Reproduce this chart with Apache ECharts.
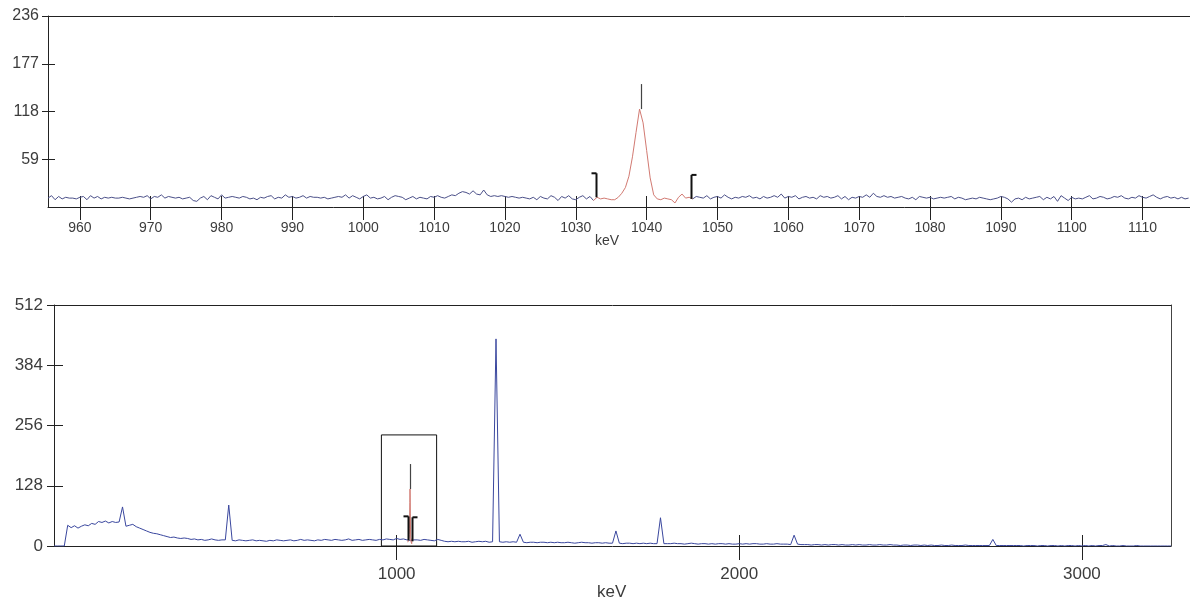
<!DOCTYPE html>
<html>
<head>
<meta charset="utf-8">
<script src="https://cdn.jsdelivr.net/npm/echarts@6/dist/echarts.min.js"></script>
<style>
html,body{margin:0;padding:0;background:#fff;}
#chart{width:1190px;height:606px;}
</style>
</head>
<body>
<div id="chart"></div>
<script>
// ---------- DATA ----------
// Zoomed spectrum (top panel): channels of 0.5 keV starting at 955.5 keV
const topStart = 955.5;
const topStep = 0.5;
const topCounts = [
  11,14,9,13,10,12,11,11,10,12,13,9,14,11,13,10,12,11,12,11,
  11,12,11,10,11,12,13,12,14,10,13,12,15,11,13,12,11,12,10,11,
  12,8,7,11,13,9,14,12,10,15,11,12,13,12,11,13,12,10,11,9,
  12,11,13,14,10,12,11,15,12,13,11,12,14,11,13,12,12,11,12,10,
  11,12,13,12,15,11,14,12,10,13,15,11,12,10,11,13,9,12,14,13,
  12,9,11,13,10,12,11,10,13,12,14,12,11,13,15,14,17,19,18,16,
  20,16,15,21,15,13,14,13,14,13,12,13,12,11,12,11,10,12,9,13,
  11,10,14,12,8,13,11,14,10,9,12,14,10,13,8,12,10,11,10,9,
  9,12,17,24,38,62,92,121,104,70,36,15,10,9,11,10,9,5,12,16,
  11,12,10,13,12,11,14,10,12,13,11,15,12,10,12,11,13,12,14,11,
  12,10,13,11,12,14,12,16,11,13,12,14,10,12,13,11,12,10,14,12,
  13,11,12,14,10,13,9,12,11,13,12,15,12,17,13,12,14,12,13,11,
  12,13,11,10,12,9,13,12,11,12,10,11,12,11,12,13,10,12,11,9,
  10,11,10,12,11,10,9,10,11,13,12,10,6,10,11,9,12,10,11,12,
  13,9,12,10,13,7,14,11,8,12,10,11,10,12,14,10,11,13,12,10,
  11,13,12,14,11,10,12,11,14,12,11,13,15,12,10,12,13,11,12,10,
  12,10,11
];
const topRange = [955.5, 1116.7];
const topYMax = 236;
const topXTicks = [960,970,980,990,1000,1010,1020,1030,1040,1050,1060,1070,1080,1090,1100,1110];
const topYTicks = [59,118,177,236];

// Full spectrum (bottom panel): 10 keV bins starting at 0 keV
const bottomStart = 0;
const bottomStep = 10;
const bottomCounts = [
  0,0,0,0,44,39,43,38,42,45,43,48,46,52,50,53,49,52,50,51,
  83,42,44,46,41,38,35,32,29,27,26,24,22,20,18,19,17,16,17,16,
  14,15,13,14,12,13,15,13,12,13,13,87,12,11,13,12,11,12,13,11,
  12,11,10,12,11,13,12,11,12,13,11,12,14,12,13,12,11,13,12,14,
  13,12,14,13,12,13,15,12,13,14,12,13,14,13,12,14,13,15,14,13,
  16,14,15,13,12,13,13,12,14,13,12,11,14,12,10,9,10,9,10,9,
  9,10,8,9,10,9,10,8,9,440,9,8,9,8,9,8,25,8,7,8,
  8,7,8,8,7,8,7,8,7,7,8,7,6,7,8,7,7,6,7,7,
  6,7,6,6,32,6,5,6,6,5,6,5,6,5,6,5,5,60,5,5,
  5,6,5,5,4,5,6,5,4,5,5,4,5,4,5,5,4,5,4,4,
  5,4,5,4,5,5,4,4,5,4,4,5,4,4,4,3,23,4,3,3,
  3,2,3,3,2,3,2,3,3,2,3,2,2,3,2,3,2,2,3,2,
  2,3,2,2,3,2,2,1,2,2,1,2,2,1,2,1,2,1,1,2,
  1,1,2,1,1,1,2,1,1,1,1,1,1,1,14,1,1,1,1,1,
  1,1,1,0,1,1,1,0,1,1,0,1,1,0,1,0,1,1,0,1,
  0,1,0,1,0,1,1,3,0,1,0,0,1,0,0,0,1,0,0,0,
  0,0,0,0,0,0,0
];
const bottomRange = [0, 3260];
const bottomYMax = 512;
const bottomXTicks = [1000,2000,3000];
const bottomYTicks = [0,128,256,384,512];

// Region of interest and peak markers
const roi = [1032.8, 1046.2];
const roiBaseCounts = [12, 10];
const peakEnergy = 1039.2;
const peakCounts = 121;
const axisTitle = 'keV';

// ---------- BUILD ----------
const topPairs = topCounts.map((c, i) => [topStart + i * topStep, c]);
let iL = 0, iR = topPairs.length - 1;
topPairs.forEach((p, i) => { if (p[0] <= roi[0]) iL = i; });
for (let i = topPairs.length - 1; i >= 0; i--) { if (topPairs[i][0] >= roi[1]) iR = i; }
const topBlue = topPairs.map((p, i) => (i <= iL || i >= iR) ? p : [p[0], null]);
const roiPairs = topPairs.slice(iL, iR + 1);
const bottomPairs = bottomCounts.map((c, i) => [bottomStart + i * bottomStep, c]);
const markerData = [[roi[0], roiBaseCounts[0], -1], [peakEnergy, peakCounts, 0], [roi[1], roiBaseCounts[1], 1]];

const FONT = "'Liberation Sans', Arial, sans-serif";
const LBL = '#3c3c3c';
const AX = '#222';
const plain = (v) => String(v);

function markerRender(params, api) {
  const kind = api.value(2);
  const p = api.coord([api.value(0), api.value(1)]);
  const x = Math.round(p[0]) + 0.5;
  const y = p[1];
  if (kind === 0) {
    return { type: 'line', shape: { x1: x, y1: y, x2: x, y2: y - 25 }, style: { stroke: '#444', lineWidth: 1.2 } };
  }
  return {
    type: 'group',
    children: [
      { type: 'line', shape: { x1: x, y1: y, x2: x, y2: y - 24 }, style: { stroke: '#111', lineWidth: 2 } },
      { type: 'line', shape: { x1: x, y1: y - 24, x2: x + kind * 5, y2: y - 24 }, style: { stroke: '#111', lineWidth: 2 } }
    ]
  };
}

function xMain(grid, range, ticks, fontSize, margin, outLen) {
  return {
    type: 'value', gridIndex: grid, min: range[0], max: range[1], position: 'bottom',
    axisLine: { show: true, onZero: false, lineStyle: { color: AX, width: 1 } },
    axisTick: { show: true, customValues: ticks, length: outLen, lineStyle: { color: AX, width: 1 } },
    axisLabel: { show: true, customValues: ticks, formatter: plain, fontSize: fontSize, fontFamily: FONT, color: LBL, margin: margin },
    splitLine: { show: false }
  };
}
function xInner(grid, range, ticks, inLen) {
  return {
    type: 'value', gridIndex: grid, min: range[0], max: range[1], position: 'bottom',
    axisLine: { show: false },
    axisTick: { show: true, inside: true, customValues: ticks, length: inLen, lineStyle: { color: AX, width: 1 } },
    axisLabel: { show: false }, splitLine: { show: false }
  };
}
function xTop(grid, range) {
  return {
    type: 'value', gridIndex: grid, min: range[0], max: range[1], position: 'top',
    axisLine: { show: true, onZero: false, lineStyle: { color: AX, width: 1 } },
    axisTick: { show: false }, axisLabel: { show: false }, splitLine: { show: false }
  };
}
function yMain(grid, max, ticks, fontSize, margin, outLen) {
  return {
    type: 'value', gridIndex: grid, min: 0, max: max, position: 'left',
    axisLine: { show: true, onZero: false, lineStyle: { color: AX, width: 1 } },
    axisTick: { show: true, customValues: ticks, length: outLen, lineStyle: { color: AX, width: 1 } },
    axisLabel: { show: true, customValues: ticks, formatter: plain, fontSize: fontSize, fontFamily: FONT, color: LBL, margin: margin },
    splitLine: { show: false }
  };
}
function yInner(grid, max, ticks, inLen) {
  return {
    type: 'value', gridIndex: grid, min: 0, max: max, position: 'left',
    axisLine: { show: false },
    axisTick: { show: true, inside: true, customValues: ticks, length: inLen, lineStyle: { color: AX, width: 1 } },
    axisLabel: { show: false }, splitLine: { show: false }
  };
}
function yRight(grid, max) {
  return {
    type: 'value', gridIndex: grid, min: 0, max: max, position: 'right',
    axisLine: { show: true, onZero: false, lineStyle: { color: '#444', width: 1 } },
    axisTick: { show: false }, axisLabel: { show: false }, splitLine: { show: false }
  };
}

const chart = echarts.init(document.getElementById('chart'), null, { renderer: 'canvas' });
chart.setOption({
  animation: false,
  backgroundColor: '#fff',
  grid: [
    { left: 48, top: 16, width: 1142, height: 191 },
    { left: 54, top: 305, width: 1117, height: 241 }
  ],
  xAxis: [
    xMain(0, topRange, topXTicks, 14, 14, 13),
    xInner(0, topRange, topXTicks, 11),
    xTop(0, topRange),
    xMain(1, bottomRange, bottomXTicks, 17, 20, 14),
    xInner(1, bottomRange, bottomXTicks, 11),
    xTop(1, bottomRange)
  ],
  yAxis: [
    yMain(0, topYMax, topYTicks, 16, 9, 6),
    yInner(0, topYMax, topYTicks, 7),
    yMain(1, bottomYMax, bottomYTicks, 17, 11, 7),
    yInner(1, bottomYMax, bottomYTicks, 9),
    yRight(1, bottomYMax)
  ],
  graphic: [
    { type: 'text', left: 595, top: 234, style: { text: axisTitle, font: '14px ' + FONT, fill: LBL } },
    { type: 'text', left: 597, top: 584, style: { text: axisTitle, font: '17px ' + FONT, fill: LBL } }
  ],
  series: [
    { type: 'line', xAxisIndex: 0, yAxisIndex: 0, data: topBlue, showSymbol: false, connectNulls: false,
      lineStyle: { color: '#4b5089', width: 1 }, z: 3 },
    { type: 'line', xAxisIndex: 0, yAxisIndex: 0, data: roiPairs, showSymbol: false,
      lineStyle: { color: '#d27a72', width: 1 }, z: 4 },
    { type: 'custom', xAxisIndex: 0, yAxisIndex: 0, data: markerData, renderItem: markerRender, z: 5, clip: false },
    { type: 'line', xAxisIndex: 3, yAxisIndex: 2, data: bottomPairs, showSymbol: false,
      lineStyle: { color: '#3a479e', width: 1 }, z: 3,
      markArea: { silent: true, itemStyle: { color: 'rgba(0,0,0,0)', borderColor: '#111', borderWidth: 1 },
        data: [[{ coord: [topRange[0], 0] }, { coord: [topRange[1], topYMax] }]] } },
    { type: 'line', xAxisIndex: 3, yAxisIndex: 2, data: roiPairs, showSymbol: false,
      lineStyle: { color: '#d27a72', width: 1 }, z: 4 },
    { type: 'custom', xAxisIndex: 3, yAxisIndex: 2, data: markerData, renderItem: markerRender, z: 5, clip: false }
  ]
});
</script>
</body>
</html>
